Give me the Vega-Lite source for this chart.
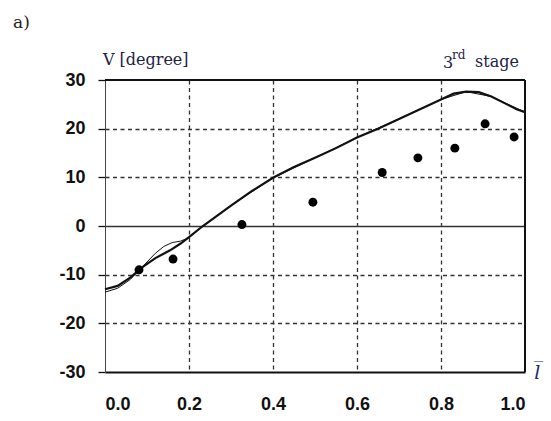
{
  "$schema": "https://vega.github.io/schema/vega-lite/v6.json",
  "width": 420,
  "height": 292,
  "autosize": "none",
  "padding": {"left": 105, "top": 80, "right": 26, "bottom": 49},
  "background": "white",
  "config": {
    "view": {"stroke": null},
    "axis": {"labelFont": "Liberation Sans", "labelFontWeight": "bold", "labelFontSize": 18, "labelColor": "#111", "title": null}
  },
  "datasets": {
    "thick": [
      {"x": 0.0, "y": -13.0}, {"x": 0.03, "y": -12.3}, {"x": 0.06, "y": -10.6}, {"x": 0.09, "y": -8.4},
      {"x": 0.12, "y": -6.6}, {"x": 0.155, "y": -5.0}, {"x": 0.18, "y": -3.6}, {"x": 0.2, "y": -2.3},
      {"x": 0.233, "y": 0.0}, {"x": 0.3, "y": 4.2}, {"x": 0.35, "y": 7.2}, {"x": 0.4, "y": 9.9},
      {"x": 0.45, "y": 12.1}, {"x": 0.5, "y": 14.0}, {"x": 0.55, "y": 16.0}, {"x": 0.6, "y": 18.2},
      {"x": 0.65, "y": 20.0}, {"x": 0.7, "y": 22.0}, {"x": 0.75, "y": 24.0}, {"x": 0.8, "y": 26.0},
      {"x": 0.83, "y": 27.2}, {"x": 0.86, "y": 27.6}, {"x": 0.89, "y": 27.5}, {"x": 0.92, "y": 26.6},
      {"x": 0.95, "y": 25.3}, {"x": 0.98, "y": 24.0}, {"x": 1.0, "y": 23.4}
    ],
    "thin": [
      {"x": 0.0, "y": -13.6}, {"x": 0.03, "y": -12.8}, {"x": 0.06, "y": -11.0}, {"x": 0.09, "y": -8.3},
      {"x": 0.12, "y": -5.6}, {"x": 0.14, "y": -4.2}, {"x": 0.16, "y": -3.4}, {"x": 0.18, "y": -3.1},
      {"x": 0.2, "y": -2.4}, {"x": 0.233, "y": 0.0}, {"x": 0.3, "y": 4.2}, {"x": 0.4, "y": 9.9},
      {"x": 0.5, "y": 14.0}, {"x": 0.6, "y": 18.2}, {"x": 0.7, "y": 22.0}, {"x": 0.8, "y": 26.0},
      {"x": 0.86, "y": 27.6}, {"x": 0.92, "y": 26.6}, {"x": 1.0, "y": 23.4}
    ],
    "measured": [
      {"x": 0.081, "y": -9.0}, {"x": 0.162, "y": -6.8}, {"x": 0.326, "y": 0.3}, {"x": 0.495, "y": 4.9},
      {"x": 0.66, "y": 11.0}, {"x": 0.745, "y": 14.0}, {"x": 0.833, "y": 16.0}, {"x": 0.905, "y": 21.0},
      {"x": 0.974, "y": 18.3}
    ]
  },
  "layer": [
    {
      "data": {"name": "thin"},
      "mark": {"type": "line", "color": "#111", "strokeWidth": 1},
      "encoding": {
        "x": {"field": "x", "type": "quantitative", "scale": {"domain": [0, 1], "nice": false},
          "axis": {"values": [0, 0.2, 0.4, 0.6, 0.8, 1.0], "format": ".1f", "tickSize": 0, "labelPadding": 23,
            "domainColor": "#111", "domainWidth": 2,
            "grid": true, "gridColor": "#333", "gridWidth": 1.3, "gridDash": [4, 3.5],
            "gridOpacity": {"condition": {"test": "datum.value === 0 || datum.value === 1", "value": 0}, "value": 1}}},
        "y": {"field": "y", "type": "quantitative", "scale": {"domain": [-30, 30], "nice": false},
          "axis": {"values": [-30, -20, -10, 0, 10, 20, 30], "labelExpr": "toString(datum.value)", "tickSize": 7, "tickColor": "#111", "tickWidth": 1.3, "labelPadding": 13,
            "domainColor": "#444", "domainWidth": 1,
            "grid": true, "gridColor": "#333",
            "gridWidth": {"condition": {"test": "datum.value === 0", "value": 1.7}, "value": 1.3},
            "gridDash": {"condition": {"test": "datum.value === 0", "value": []}, "value": [4, 3.5]},
            "gridOpacity": {"condition": {"test": "abs(datum.value) === 30", "value": 0}, "value": 1}}}
      }
    },
    {
      "data": {"values": [{"y": 30}]},
      "mark": {"type": "rule", "color": "#111", "strokeWidth": 2},
      "encoding": {"y": {"field": "y", "type": "quantitative"}}
    },
    {
      "data": {"values": [{"x": 1}]},
      "mark": {"type": "rule", "color": "#111", "strokeWidth": 2},
      "encoding": {"x": {"field": "x", "type": "quantitative"}}
    },
    {
      "data": {"name": "thick"},
      "mark": {"type": "line", "color": "#111", "strokeWidth": 2.2},
      "encoding": {
        "x": {"field": "x", "type": "quantitative"},
        "y": {"field": "y", "type": "quantitative"}
      }
    },
    {
      "data": {"name": "measured"},
      "mark": {"type": "point", "filled": true, "color": "#000", "opacity": 1, "size": 80},
      "encoding": {
        "x": {"field": "x", "type": "quantitative"},
        "y": {"field": "y", "type": "quantitative"}
      }
    },
    {
      "data": {"values": [{"t": "V [degree]", "x": -0.005, "y": 33.1}, {"t": "3", "x": 0.805, "y": 32.4}, {"t": "stage", "x": 0.881, "y": 32.6}]},
      "mark": {"type": "text", "font": "DejaVu Serif", "fontSize": 16, "color": "#222244", "align": "left", "baseline": "alphabetic"},
      "encoding": {
        "x": {"field": "x", "type": "quantitative"},
        "y": {"field": "y", "type": "quantitative"},
        "text": {"field": "t"}
      }
    },
    {
      "data": {"values": [{"t": "rd", "x": 0.826, "y": 34.3}]},
      "mark": {"type": "text", "font": "DejaVu Serif", "fontSize": 12, "color": "#222244", "align": "left", "baseline": "alphabetic"},
      "encoding": {
        "x": {"field": "x", "type": "quantitative"},
        "y": {"field": "y", "type": "quantitative"},
        "text": {"field": "t"}
      }
    },
    {
      "data": {"values": [{"t": "a)", "x": -0.219, "y": 40.7}]},
      "mark": {"type": "text", "font": "DejaVu Serif", "fontSize": 17, "color": "#222", "align": "left", "baseline": "alphabetic"},
      "encoding": {
        "x": {"field": "x", "type": "quantitative"},
        "y": {"field": "y", "type": "quantitative"},
        "text": {"field": "t"}
      }
    },
    {
      "data": {"values": [{"t": "l̅", "x": 1.029, "y": -31.4}]},
      "mark": {"type": "text", "font": "DejaVu Serif", "fontStyle": "italic", "fontSize": 19, "color": "#1a2a6a", "align": "center", "baseline": "alphabetic"},
      "encoding": {
        "x": {"field": "x", "type": "quantitative"},
        "y": {"field": "y", "type": "quantitative"},
        "text": {"field": "t"}
      }
    }
  ]
}
